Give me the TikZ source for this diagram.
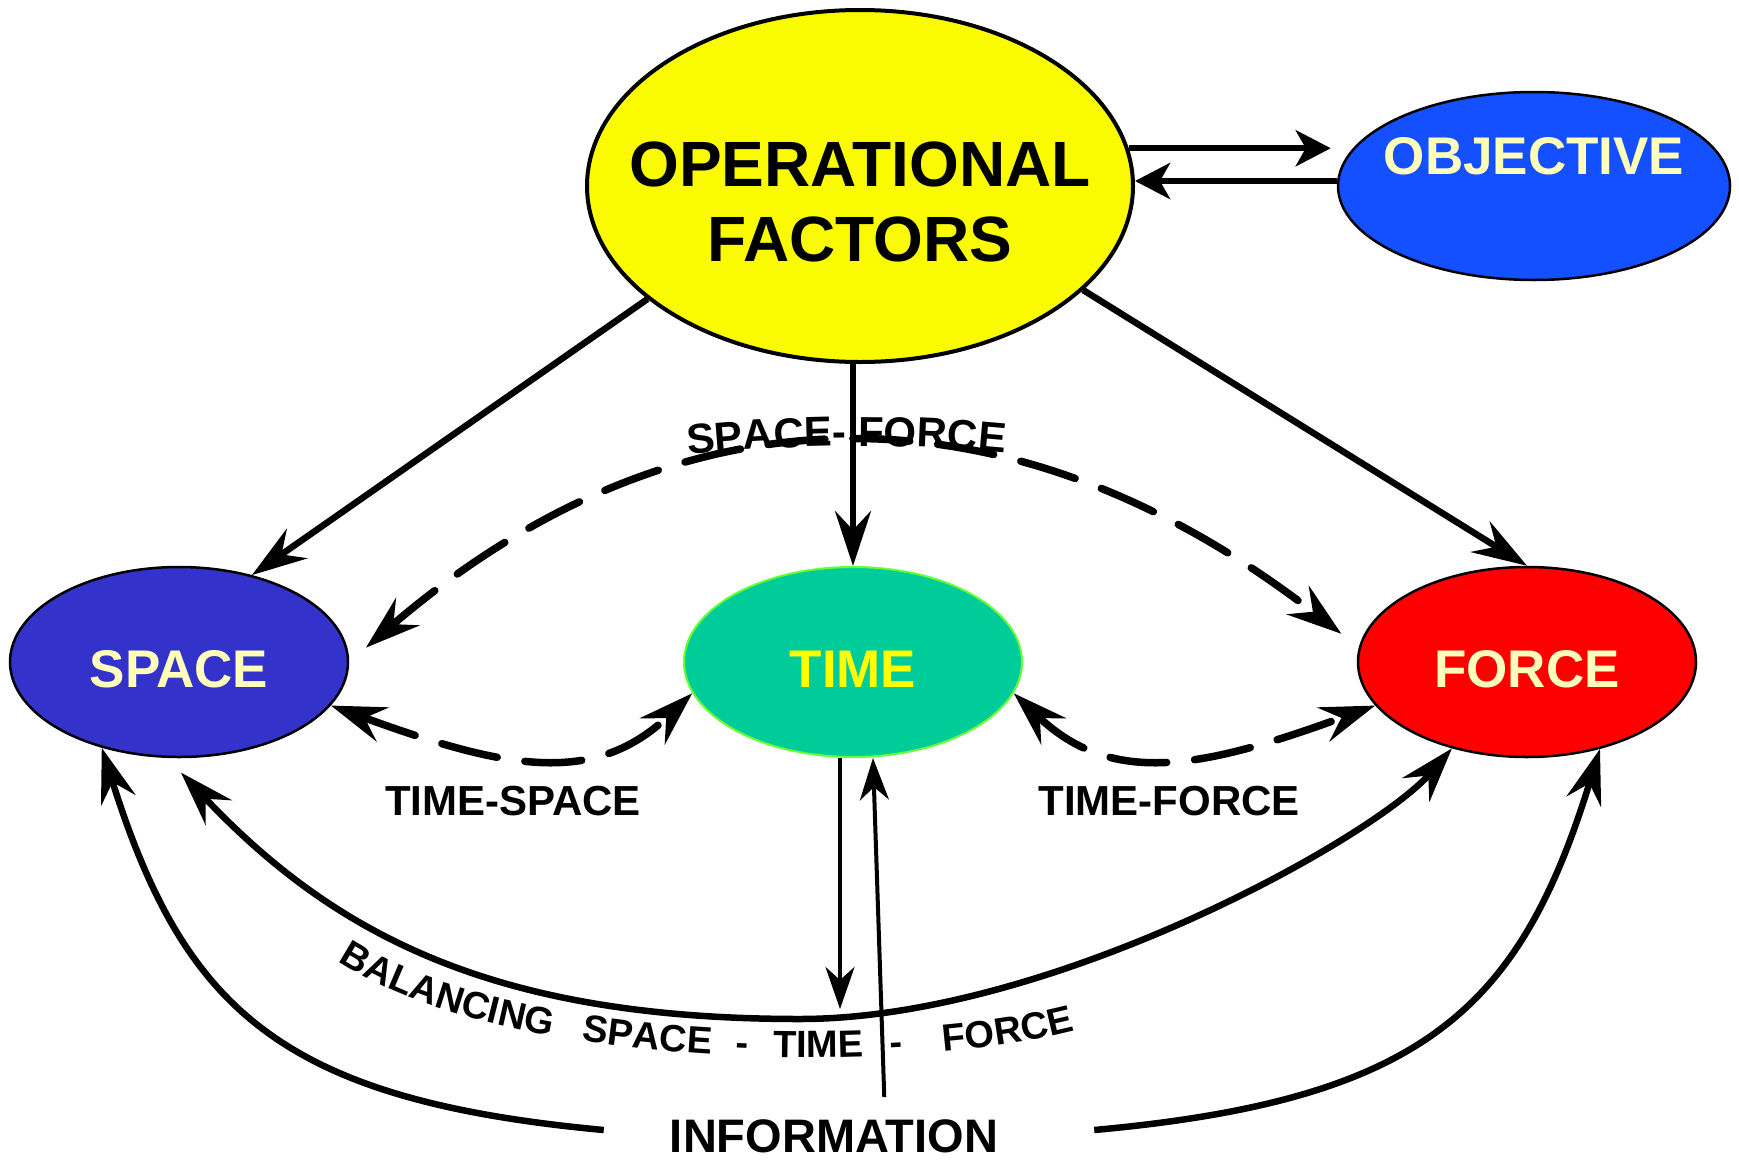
\documentclass[tikz,border=0pt]{standalone}
\usepackage{fontspec}
\setmainfont{Liberation Sans}
\usetikzlibrary{shapes.geometric,arrows.meta,decorations.text}

\definecolor{opfyellow}{RGB}{250,250,0}
\definecolor{objblue}{RGB}{20,80,255}
\definecolor{spaceblue}{RGB}{51,51,204}
\definecolor{timegreen}{RGB}{0,204,153}
\definecolor{timeedge}{RGB}{102,255,51}
\definecolor{forcered}{RGB}{255,0,0}
\definecolor{paletext}{RGB}{255,255,187}
\definecolor{timetext}{RGB}{255,255,0}

\newcommand\arcfont{\fontsize{42}{42}\selectfont\bfseries}
\newcommand\balfont{\fontsize{38}{38}\selectfont\bfseries}

\tikzset{
  factor/.style={ellipse, draw=black, line width=2.5pt, inner sep=0pt,
    minimum width=338pt, minimum height=190pt, text=paletext,
    font=\fontsize{53}{60}\selectfont\bfseries},
  linktext/.style={inner sep=0pt, font=\fontsize{42}{42}\selectfont\bfseries},
  link/.style={line width=6.5pt, -{Stealth[length=55pt,width=36pt,inset=19pt]}},
  twolink/.style={line width=6.5pt,
    {Stealth[length=55pt,width=36pt,inset=19pt]}-{Stealth[length=55pt,width=36pt,inset=19pt]}},
  dashlink/.style={twolink, line width=7.5pt, dash pattern=on 57pt off 28pt, line cap=round},
  thinlink/.style={line width=4pt, -{Stealth[length=42pt,width=29pt,inset=13pt]}},
  objlink/.style={line width=6.5pt, -{Stealth[length=35pt,width=36pt,inset=10pt]}}
}

\begin{document}
\begin{tikzpicture}[x=1pt,y=-1pt]
\useasboundingbox (0,0) rectangle (1739,1159);

% the factors
\node[factor, fill=opfyellow, line width=4pt, inner xsep=-45pt,
  minimum width=546pt, minimum height=352pt,
  text=black, align=center, font=\fontsize{64}{75}\selectfont\bfseries]
  (opf) at (860,186) {\rule{0pt}{77pt}OPERATIONAL\\FACTORS};
\node[factor, fill=objblue, inner xsep=-15pt, minimum width=392pt, minimum height=188pt,
  text depth=60pt] (obj) at (1534,186) {OBJECTIVE};
\node[factor, fill=spaceblue, text height=50pt, text depth=0pt] (space) at (179,662) {SPACE};
\node[factor, fill=timegreen, draw=timeedge, line width=2pt, text=timetext,
  text height=50pt, text depth=0pt] (time) at (853,662) {TIME};
\node[factor, fill=forcered, text height=50pt, text depth=0pt] (force) at (1527,662) {FORCE};

% texts
\node[linktext] (tslabel) at (513,801) {TIME-SPACE};
\node[linktext] (tflabel) at (1169,801) {TIME-FORCE};
\node[linktext, font=\fontsize{47}{47}\selectfont\bfseries] (info) at (834,1136) {INFORMATION};
\coordinate (balmid) at (840,1009);

% operational factors out
\draw[link] (opf.208) -- (space.50);
\draw[link] ([xshift=-7pt]opf.south) -- (time.north);
\draw[link] (opf.-25) -- (force.north);
\draw[objlink, shorten >=6pt] (opf.8) -- (opf.8 -| obj.west);
\draw[objlink] ([yshift=5pt]obj.west) -- ([yshift=5pt]opf.east);

% pairs
\draw[dashlink, shorten <=22pt, shorten >=22pt]
  (space.east) .. controls (676,381) and (1007,375) .. (force.175);
\path[decorate, decoration={text along path, text align=left,
  text={|\arcfont|SPACE- FORCE}}]
  (688,455) .. controls (788,444) and (907,443) .. (1007,453);
\draw[dashlink] (space.-16) .. controls (505,769) and (594,787) .. (time.191);
\draw[dashlink] (time.-11) .. controls (1112,787) and (1201,769) .. (force.196);

% balancing
\draw[twolink, shorten <=20pt] (space.-97) .. controls (338,939) and (500,1019) .. (800,1019)
  .. controls (1050,1019) and (1374,838) .. (force.229);
\path[decorate, decoration={text along path, text align=left,
  text={|\balfont|BALANCING {\kern19pt}SPACE {\kern14pt}- {\kern14pt}TIME {\kern16pt}- {\kern30pt}FORCE}}]
  (338,961) .. controls (511,1075) and (917,1074) .. (1080,1029);

% information
\draw[link] ([shift={(-66pt,6pt)}]info.west) .. controls (280,1100) and (184,1009) .. (space.228);
\draw[link] ([shift={(96pt,6pt)}]info.east) .. controls (1424,1100) and (1520,1009) .. (force.310);
\draw[thinlink] ([xshift=-13pt]time.south) -- (balmid);
\draw[thinlink, shorten <=22pt] ([xshift=51pt]info.north) -- ([xshift=20pt]time.south);
\end{tikzpicture}
\end{document}
